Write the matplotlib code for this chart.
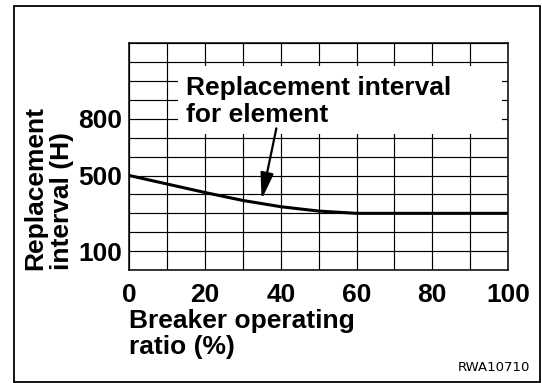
import numpy as np
import matplotlib
matplotlib.use("Agg")
import matplotlib.pyplot as plt
from matplotlib.patches import Rectangle

plt.rcParams["font.family"] = ["Liberation Sans", "DejaVu Sans"]

# Replacement interval curve (hours) vs breaker operating ratio (%)
ratio = [0, 10, 20, 30, 40, 50, 60, 70, 80, 90, 100]
interval_h = [500, 455, 410, 368, 335, 312, 300, 300, 300, 300, 300]

x_ticks = np.arange(0, 101, 10)
x_labels = ["0", "", "20", "", "40", "", "60", "", "80", "", "100"]
y_ticks = np.arange(0, 1201, 100)
y_labelled = [100, 500, 800]

fig = plt.figure(figsize=(5.42, 3.83), dpi=100)
ax = fig.add_axes([0.2389, 0.2950, 0.6984, 0.5919])

ax.plot(ratio, interval_h, color="black", lw=2.2, zorder=4,
        solid_capstyle="butt")

ax.set_xlim(0, 100)
ax.set_ylim(0, 1200)
ax.set_xticks(x_ticks)
ax.set_xticklabels(x_labels)
ax.set_yticks(y_ticks)
ax.set_yticklabels([str(v) if v in y_labelled else "" for v in y_ticks])
ax.tick_params(axis="x", length=0, labelsize=19, pad=9)
ax.tick_params(axis="y", length=0, labelsize=19, pad=5)
for lbl in ax.get_xticklabels() + ax.get_yticklabels():
    lbl.set_fontweight("bold")
ax.grid(True, color="black", lw=0.85)
ax.set_axisbelow(True)
for sp in ax.spines.values():
    sp.set_linewidth(1.1)

# white panel behind the callout text
ax.add_patch(Rectangle((12.8, 720), 85.6, 359, facecolor="white",
                       edgecolor="none", zorder=2))
ax.text(14.8, 1025, "Replacement interval\nfor element", fontsize=19,
        fontweight="bold", ha="left", va="top", linespacing=1.12, zorder=5)
ax.annotate("", xy=(34.9, 374), xytext=(38.8, 750),
            arrowprops=dict(arrowstyle="-|>,head_length=1.6,head_width=0.4",
                            color="black", lw=1.6, shrinkA=0, shrinkB=0),
            zorder=5)

ax.text(-0.1466, 0.0, "Replacement\ninterval (H)", transform=ax.transAxes,
        rotation=90, fontsize=19, fontweight="bold", ha="right", va="bottom",
        multialignment="left", linespacing=1.12)
ax.text(0.0, -0.172, "Breaker operating\nratio (%)", transform=ax.transAxes,
        fontsize=19, fontweight="bold", ha="left", va="top", linespacing=1.12)

fig.text(530 / 542, 1 - 371 / 383, "RWA10710", fontsize=9.5,
         family="DejaVu Sans", ha="right", va="baseline")

# outer border
fig.add_artist(Rectangle((0.0258, 0.0026), 0.9714, 0.983, transform=fig.transFigure,
                         fill=False, edgecolor="black", lw=1.3))

fig.savefig("out.png", dpi=100)
